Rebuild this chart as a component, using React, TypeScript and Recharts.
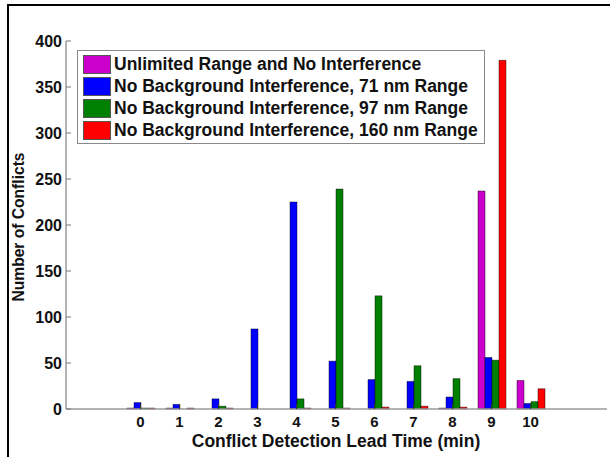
import { Bar, BarChart, Legend, XAxis, YAxis } from "recharts";

const leadTimes = ["0", "1", "2", "3", "4", "5", "6", "7", "8", "9", "10"];
const unlimited = [1, 1, 0, 0, 0, 0, 0, 0, 1, 237, 31];
const range71 = [7, 5, 11, 87, 225, 52, 32, 30, 13, 56, 6];
const range97 = [1, 0, 3, 0, 11, 239, 123, 47, 33, 53, 8];
const range160 = [1, 1, 1, 0, 1, 1, 2, 3, 2, 379, 22];
const yTicks = [0, 50, 100, 150, 200, 250, 300, 350, 400];

const series = [
  { key: "unlimited", name: "Unlimited Range and No Interference", color: "#cc00cc" },
  { key: "r71", name: "No Background Interference, 71 nm Range", color: "#0000ff" },
  { key: "r97", name: "No Background Interference, 97 nm Range", color: "#008000" },
  { key: "r160", name: "No Background Interference, 160 nm Range", color: "#ff0000" },
];

const data = leadTimes.map((t, i) => ({
  t,
  unlimited: unlimited[i],
  r71: range71[i],
  r97: range97[i],
  r160: range160[i],
}));

const font = "'Liberation Sans', Arial, sans-serif";
const axisGray = "#9a9a9a";
const yTickStyle = { fontSize: 16, fontWeight: "bold", fill: "#111", fontFamily: font };
const xTickStyle = { fontSize: 15, fontWeight: "bold", fill: "#111", fontFamily: font };

function YTitle() {
  const cx = 18;
  const cy = 227;
  return (
    <text
      x={cx}
      y={cy}
      transform={`rotate(-90 ${cx} ${cy})`}
      textAnchor="middle"
      dominantBaseline="central"
      fontSize={15.6}
      fontWeight="bold"
      fill="#111"
      fontFamily={font}
    >
      Number of Conflicts
    </text>
  );
}

function XTitle() {
  return (
    <text
      x={336}
      y={447}
      textAnchor="middle"
      fontSize={17.5}
      fontWeight="bold"
      fill="#111"
      fontFamily={font}
    >
      Conflict Detection Lead Time (min)
    </text>
  );
}

function LegendBox() {
  return (
    <div
      style={{
        border: "1px solid #8a8a8a",
        background: "#fff",
        padding: "2px 6px 2px 5px",
        fontFamily: font,
        fontWeight: "bold",
        fontSize: 17.5,
        color: "#111",
        whiteSpace: "nowrap",
      }}
    >
      {series.map((s) => (
        <div key={s.key} style={{ display: "flex", alignItems: "center", height: 22 }}>
          <span
            style={{
              display: "inline-block",
              width: 26,
              height: 17,
              background: s.color,
              border: "1px solid #555",
              marginRight: 3,
            }}
          />
          <span>{s.name}</span>
        </div>
      ))}
    </div>
  );
}

export default function App() {
  return (
    <div
      style={{
        position: "fixed",
        left: 0,
        top: 0,
        width: 610,
        height: 457,
        overflow: "hidden",
        background: "#fff",
        fontFamily: font,
      }}
    >
      <div
        style={{
          position: "absolute",
          left: 7,
          top: 4,
          width: 700,
          height: 600,
          borderLeft: "2px solid #000",
          borderTop: "2px solid #000",
        }}
      />
      <div style={{ position: "absolute", left: 0, top: 0 }}>
        <BarChart
          width={610}
          height={457}
          data={data}
          margin={{ top: 41, right: 3, bottom: 0, left: 0 }}
          barSize={7}
          barGap={0}
        >
          <XAxis
            dataKey="t"
            height={48}
            padding={{ left: 55, right: 57 }}
            interval={0}
            axisLine={{ stroke: axisGray, strokeWidth: 1.5 }}
            tickLine={{ stroke: "#333" }}
            tickSize={-5}
            tickMargin={12}
            tick={xTickStyle}
            label={{ content: XTitle }}
          />
          <XAxis
            xAxisId="top"
            dataKey="t"
            orientation="top"
            height={0}
            padding={{ left: 55, right: 57 }}
            interval={0}
            axisLine={{ stroke: axisGray, strokeWidth: 1.5 }}
            tickLine={{ stroke: "#777" }}
            tickSize={-5}
            tick={() => <g />}
          />
          <YAxis
            width={66}
            domain={[0, 400]}
            ticks={yTicks}
            interval={0}
            axisLine={{ stroke: axisGray, strokeWidth: 1.5 }}
            tickLine={{ stroke: "#777" }}
            tickSize={-5}
            tickMargin={9}
            tick={yTickStyle}
            label={{ content: YTitle }}
          />
          <YAxis
            yAxisId="right"
            orientation="right"
            width={0}
            domain={[0, 400]}
            ticks={yTicks}
            interval={0}
            axisLine={{ stroke: axisGray, strokeWidth: 1.5 }}
            tickLine={{ stroke: "#777" }}
            tickSize={-5}
            tick={() => <g />}
          />
          <Legend
            layout="vertical"
            align="center"
            verticalAlign="middle"
            wrapperStyle={{ left: 77, top: 50, width: "auto", height: "auto" }}
            content={LegendBox}
          />
          {series.map((s) => (
            <Bar
              key={s.key}
              dataKey={s.key}
              name={s.name}
              fill={s.color}
              stroke="#000"
              strokeOpacity={0.55}
              strokeWidth={0.8}
              isAnimationActive={false}
            />
          ))}
        </BarChart>
      </div>
    </div>
  );
}
